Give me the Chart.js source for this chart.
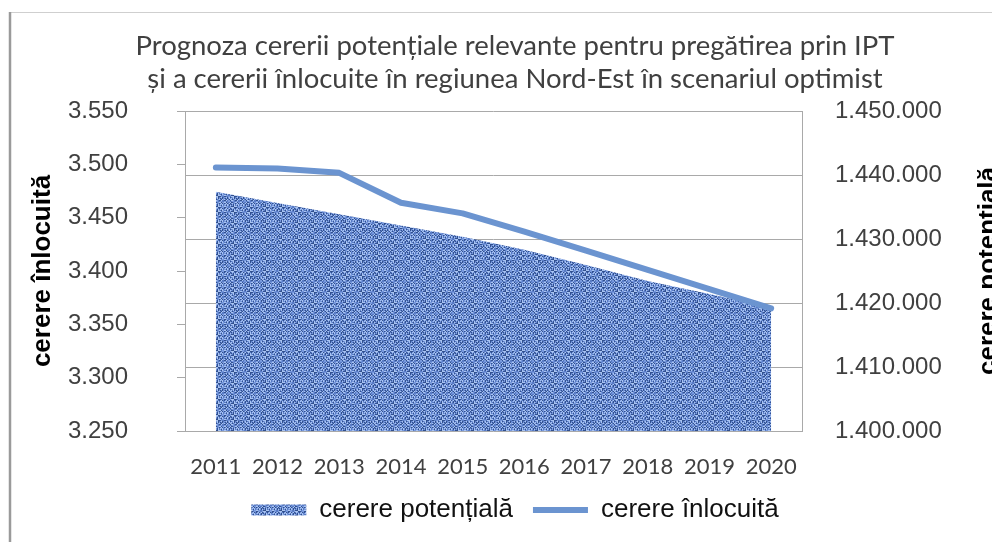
<!DOCTYPE html>
<html>
<head>
<meta charset="utf-8">
<script src="https://cdn.jsdelivr.net/npm/chart.js@4"></script>
<style>
  html, body { margin: 0; padding: 0; background: #ffffff; overflow: hidden; }
  canvas { display: block; }
</style>
</head>
<body>
<canvas id="c" width="992" height="542"></canvas>
<script>
// ---- data ----
const categories = ['2011', '2012', '2013', '2014', '2015', '2016', '2017', '2018', '2019', '2020'];
const cererePotentiala = [1437390, 1435630, 1433880, 1432110, 1430360, 1428310, 1425940, 1423440, 1421410, 1419220];
const cerereInlocuita = [3497, 3496, 3492, 3464, 3454, 3437, 3419, 3401, 3383, 3365];
const titleLines = [
  'Prognoza cererii potențiale relevante pentru pregătirea prin IPT',
  'și a cererii înlocuite în regiunea Nord-Est în scenariul optimist'
];
const seriesNames = ['cerere potențială', 'cerere înlocuită'];
const leftAxisTitle = 'cerere înlocuită';
const rightAxisTitle = 'cerere potențială';
const leftRange = { min: 3250, max: 3550, step: 50 };
const rightRange = { min: 1400000, max: 1450000, step: 10000 };

function fmt(v) {
  return String(Math.round(v)).replace(/\B(?=(\d{3})+(?!\d))/g, '.');
}

const canvas = document.getElementById('c');
const ctx = canvas.getContext('2d');

function makePattern() {
  const t = document.createElement('canvas');
  t.width = 16; t.height = 16;
  const g = t.getContext('2d');
  const dark = '#31508f', mid = '#587bc4', midL = '#7899dd', light = '#a9c4f2';
  for (let y = 0; y < 16; y++) {
    for (let x = 0; x < 16; x++) {
      const weave = ((x >> 1) + (y >> 1)) & 1;
      const h = (x * 37 + y * 91 + x * y * 13) % 11;
      let col;
      if (h < 3) col = dark;
      else if (h > 7) col = light;
      else col = weave ? mid : midL;
      g.fillStyle = col;
      g.fillRect(x, y, 1, 1);
    }
  }
  return ctx.createPattern(t, 'repeat');
}
const texture = makePattern();

const gridColor = '#a9a9a9';
const lineColor = '#6b94d0';

const framePlugin = {
  id: 'frame',
  beforeDraw(chart) {
    const c = chart.ctx;
    c.save();
    c.fillStyle = '#ffffff';
    c.fillRect(0, 0, chart.width, chart.height);
    c.strokeStyle = '#cfcfcf';
    c.lineWidth = 1;
    c.beginPath();
    c.moveTo(10, 12.5);
    c.lineTo(chart.width, 12.5);
    c.stroke();
    c.strokeStyle = '#9a9a9a';
    c.lineWidth = 2.5;
    c.beginPath();
    c.moveTo(10, 12);
    c.lineTo(10, chart.height);
    c.stroke();
    c.restore();
  }
};

const rightTitlePlugin = {
  id: 'rightTitle',
  afterDraw(chart) {
    const s = chart.scales.y2;
    const c = chart.ctx;
    c.save();
    c.translate(996, (s.top + s.bottom) / 2);
    c.rotate(-Math.PI / 2);
    c.font = 'bold 26px "Liberation Sans"';
    c.fillStyle = '#000000';
    c.textAlign = 'center';
    c.textBaseline = 'alphabetic';
    c.fillText(rightAxisTitle, 0, 0);
    c.restore();
  }
};

new Chart(ctx, {
  type: 'line',
  data: {
    labels: categories,
    datasets: [
      {
        label: seriesNames[0],
        data: cererePotentiala,
        yAxisID: 'y2',
        fill: 'start',
        backgroundColor: texture,
        borderColor: 'rgba(0,0,0,0)',
        borderWidth: 0,
        pointRadius: 0,
        pointStyle: 'rect',
        tension: 0,
        order: 1
      },
      {
        label: seriesNames[1],
        data: cerereInlocuita,
        yAxisID: 'y',
        fill: false,
        borderColor: lineColor,
        backgroundColor: lineColor,
        borderWidth: 6,
        borderCapStyle: 'round',
        borderJoinStyle: 'round',
        pointRadius: 0,
        pointStyle: 'line',
        tension: 0,
        order: 0
      }
    ]
  },
  options: {
    responsive: false,
    animation: false,
    devicePixelRatio: 1,
    layout: { padding: { left: 38, right: 0, top: 0, bottom: 9 } },
    plugins: {
      tooltip: { enabled: false },
      title: {
        display: true,
        text: titleLines,
        color: '#404040',
        font: { family: 'Lato', size: 27.5, weight: 'normal', lineHeight: 1.2 },
        padding: { top: 29.5, bottom: 15.5 }
      },
      legend: {
        display: true,
        position: 'bottom',
        labels: {
          color: '#111111',
          font: { family: 'Liberation Sans', size: 26 },
          usePointStyle: true,
          pointStyleWidth: 55,
          boxHeight: 11,
          padding: 20,
          sort: (a, b) => a.datasetIndex - b.datasetIndex
        }
      }
    },
    scales: {
      x: {
        type: 'category',
        offset: true,
        grid: { display: false, drawTicks: false },
        border: { display: false },
        ticks: {
          color: '#404040',
          font: { family: 'Lato', size: 22 },
          padding: 23,
          maxRotation: 0,
          autoSkip: false
        },
        afterFit: (s) => { s.height = 46; }
      },
      y: {
        position: 'left',
        min: leftRange.min,
        max: leftRange.max,
        ticks: {
          stepSize: leftRange.step,
          callback: (v) => fmt(v),
          color: '#404040',
          font: { family: 'Liberation Sans', size: 24 },
          padding: 49
        },
        grid: { drawOnChartArea: false, drawTicks: true, tickLength: 8, tickColor: gridColor, color: gridColor },
        border: { display: true, color: gridColor, width: 1 },
        title: {
          display: true,
          text: leftAxisTitle,
          color: '#000000',
          font: { family: 'Liberation Sans', size: 26, weight: 'bold', lineHeight: 0.2 },
          padding: { top: 2.4, bottom: 0 }
        },
        afterFit: (s) => { s.width = 147; }
      },
      y2: {
        position: 'right',
        min: rightRange.min,
        max: rightRange.max,
        ticks: {
          stepSize: rightRange.step,
          callback: (v) => fmt(v),
          color: '#404040',
          font: { family: 'Liberation Sans', size: 24 },
          padding: 33
        },
        grid: { drawOnChartArea: true, drawTicks: false, color: gridColor },
        border: { display: true, color: gridColor, width: 1 },
        afterFit: (s) => { s.width = 190; }
      }
    }
  },
  plugins: [framePlugin, rightTitlePlugin]
});
</script>
</body>
</html>
